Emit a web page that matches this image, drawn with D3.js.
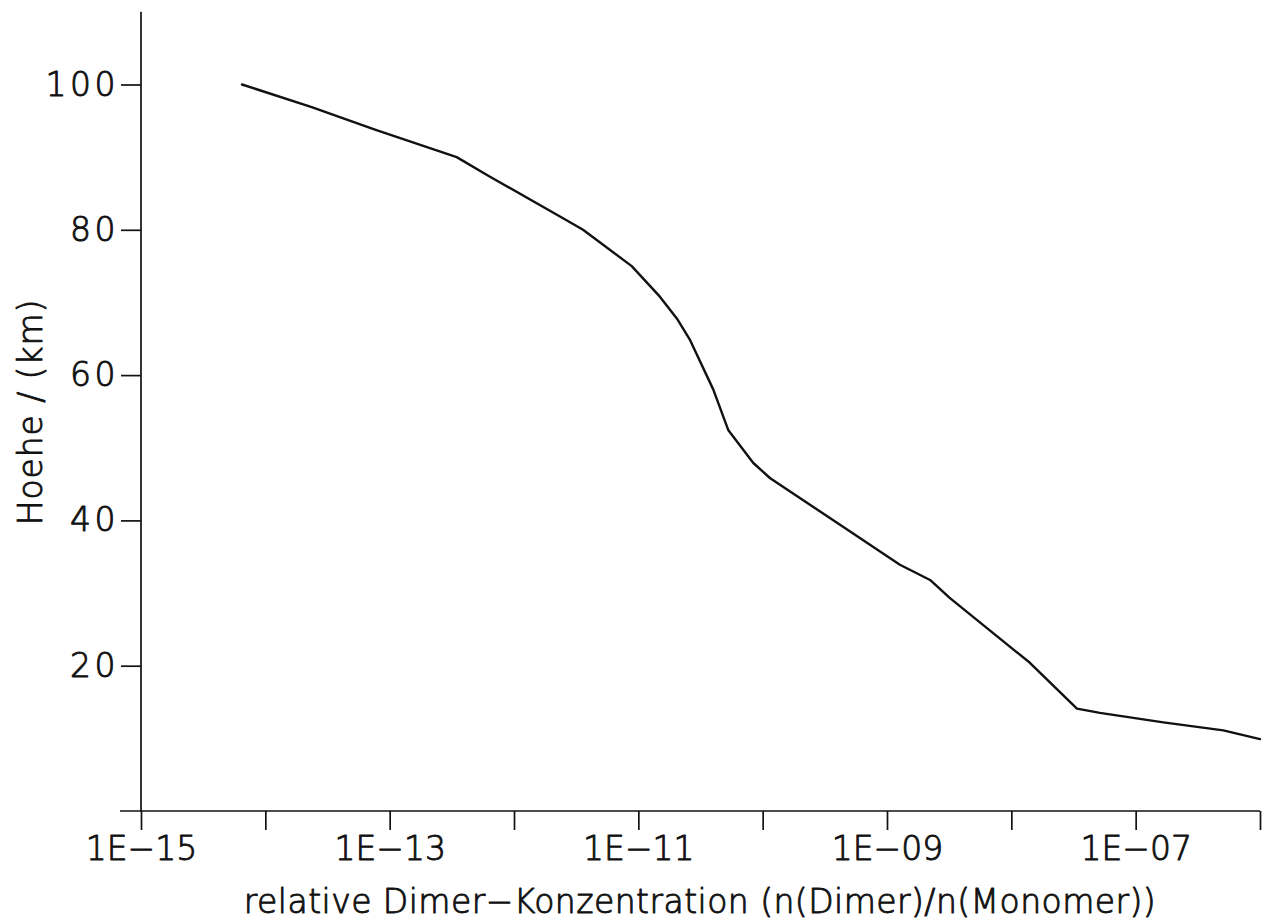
<!DOCTYPE html>
<html>
<head>
<meta charset="utf-8">
<script src="https://cdn.jsdelivr.net/npm/d3@7"></script>
<style>
  html, body { margin: 0; padding: 0; background: #fff; }
  svg { display: block; }
  text {
    font-family: "DejaVu Sans", "Liberation Sans", sans-serif;
    font-weight: 200;
    fill: #111;
    stroke: #111;
    stroke-width: 0.9px;
    stroke-linejoin: round;
  }
</style>
</head>
<body>
<svg id="chart" width="1264" height="922"></svg>
<script>
// relative dimer concentration n(Dimer)/n(Monomer) against altitude
const concentration = [6.49e-15, 2.36e-14, 7.62e-14, 3.46e-13, 6.41e-13, 2.48e-12, 3.59e-12,
  8.85e-12, 1.49e-11, 2.04e-11, 2.61e-11, 4.01e-11, 5.30e-11, 8.41e-11, 1.15e-10, 4.19e-10,
  1.27e-9, 2.22e-9, 3.21e-9, 1.41e-8, 3.37e-8, 5.16e-8, 1.67e-7, 5.07e-7, 1e-6];
const altitude = [100, 96.9, 93.8, 90, 87.3, 81.6, 80, 75, 70.8, 67.8, 64.8, 58, 52.4, 47.9,
  45.8, 39.4, 33.9, 31.8, 29.3, 20.4, 14.1, 13.5, 12.2, 11.1, 9.9];

const xTicks = [1e-15, 1e-14, 1e-13, 1e-12, 1e-11, 1e-10, 1e-9, 1e-8, 1e-7, 1e-6];
const xTickLabels = ["1E\u221215", "", "1E\u221213", "", "1E\u221211", "", "1E\u221209", "", "1E\u221207", ""];
const yTicks = [20, 40, 60, 80, 100];

const xTitle = "relative Dimer\u2212Konzentration (n(Dimer)/n(Monomer))";
const yTitle = "Hoehe / (km)";

const svg = d3.select("#chart");

const x = d3.scaleLog().domain([1e-15, 1e-6]).range([141, 1260]);
const y = d3.scaleLinear().domain([0, 110]).range([811, 11.85]);

const font = '"DejaVu Sans", "Liberation Sans", sans-serif';

// axis lines
svg.append("line")
  .attr("x1", x(1e-15) - 21).attr("x2", x(1e-6))
  .attr("y1", y(0)).attr("y2", y(0))
  .attr("stroke", "#111").attr("stroke-width", 1.7);
svg.append("line")
  .attr("x1", x(1e-15)).attr("x2", x(1e-15))
  .attr("y1", y(0)).attr("y2", y(110))
  .attr("stroke", "#111").attr("stroke-width", 1.7);

// bottom axis: ticks at every decade, labels on every other one
const xAxis = d3.axisBottom(x)
  .tickValues(xTicks)
  .tickSize(19)
  .tickSizeOuter(0)
  .tickPadding(7)
  .tickFormat((d, i) => xTickLabels[i]);
const gx = svg.append("g").attr("transform", `translate(0,${y(0)})`).call(xAxis);
gx.select(".domain").remove();
gx.selectAll(".tick line").attr("stroke", "#111").attr("stroke-width", 1.7);
gx.selectAll(".tick text")
  .attr("font-size", 33).attr("fill", "#111")
  .style("font-family", font)
  .style("font-weight", 200);

// left axis
const yAxis = d3.axisLeft(y)
  .tickValues(yTicks)
  .tickSize(20)
  .tickSizeOuter(0)
  .tickPadding(2)
  .tickFormat(d3.format("d"));
const gy = svg.append("g").attr("transform", `translate(${x(1e-15)},0)`).call(yAxis);
gy.select(".domain").remove();
gy.selectAll(".tick line").attr("stroke", "#111").attr("stroke-width", 1.7);
gy.selectAll(".tick text")
  .attr("font-size", 33).attr("fill", "#111")
  .attr("letter-spacing", 3.5)
  .style("font-family", font)
  .style("font-weight", 200);

// profile curve
const pts = concentration.map((c, i) => [c, altitude[i]]);
const line = d3.line().x(d => x(d[0])).y(d => y(d[1]));
svg.append("path")
  .datum(pts)
  .attr("d", line)
  .attr("fill", "none")
  .attr("stroke", "#111")
  .attr("stroke-width", 2.4)
  .attr("stroke-linejoin", "round")
  .attr("stroke-linecap", "round");

// axis titles
svg.append("text")
  .attr("x", 700).attr("y", 913)
  .attr("text-anchor", "middle")
  .attr("font-size", 33)
  .attr("letter-spacing", 0.45)
  .text(xTitle);

svg.append("text")
  .attr("transform", `translate(42,412) rotate(-90)`)
  .attr("text-anchor", "middle")
  .attr("font-size", 33)
  .attr("letter-spacing", 0.9)
  .text(yTitle);
</script>
</body>
</html>
